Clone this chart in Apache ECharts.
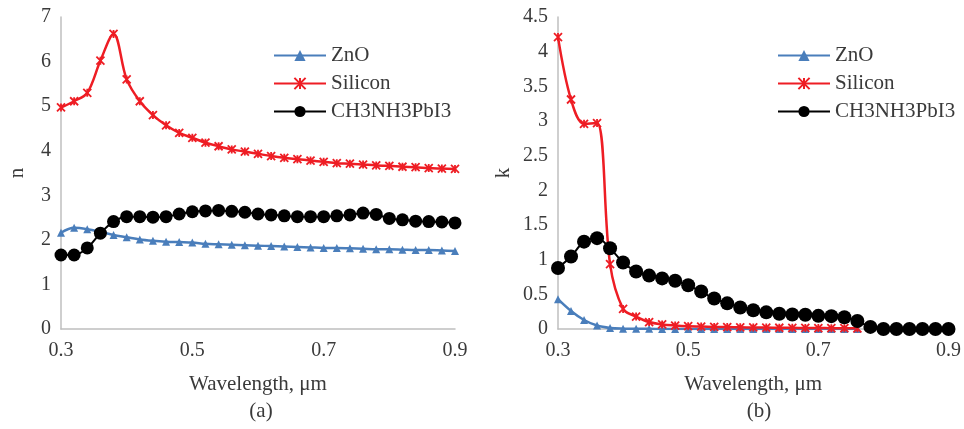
<!DOCTYPE html>
<html>
<head>
<meta charset="utf-8">
<script src="https://cdn.jsdelivr.net/npm/echarts@6/dist/echarts.min.js"></script>
<style>
  html, body { margin: 0; padding: 0; background: #fff; }
  #chart { width: 964px; height: 429px; }
</style>
</head>
<body>
<div id="chart"></div>
<script>
// --- data ---
const wavelength = [0.30, 0.32, 0.34, 0.36, 0.38, 0.40, 0.42, 0.44, 0.46, 0.48, 0.50,
  0.52, 0.54, 0.56, 0.58, 0.60, 0.62, 0.64, 0.66, 0.68, 0.70,
  0.72, 0.74, 0.76, 0.78, 0.80, 0.82, 0.84, 0.86, 0.88, 0.90];

// (a) refractive index n
const nZnO = [2.16, 2.27, 2.24, 2.18, 2.11, 2.06, 2.01, 1.98, 1.96, 1.95, 1.94,
  1.91, 1.90, 1.89, 1.88, 1.87, 1.86, 1.85, 1.84, 1.83, 1.82,
  1.82, 1.81, 1.80, 1.79, 1.79, 1.78, 1.77, 1.77, 1.76, 1.75];
const nSilicon = [4.97, 5.11, 5.30, 6.02, 6.62, 5.60, 5.11, 4.80, 4.57, 4.40, 4.29,
  4.18, 4.10, 4.03, 3.98, 3.93, 3.88, 3.84, 3.81, 3.78, 3.75,
  3.72, 3.71, 3.69, 3.67, 3.66, 3.64, 3.63, 3.61, 3.60, 3.59];
const nPerovskite = [1.66, 1.66, 1.82, 2.15, 2.41, 2.52, 2.52, 2.51, 2.52, 2.58, 2.63,
  2.65, 2.66, 2.64, 2.62, 2.58, 2.56, 2.54, 2.52, 2.52, 2.52,
  2.54, 2.56, 2.60, 2.57, 2.48, 2.45, 2.42, 2.41, 2.40, 2.38];

// (b) extinction coefficient k (null = no point)
const kZnO = [0.43, 0.26, 0.13, 0.05, 0.015, 0.005, 0.003, 0.002, 0.001, 0.001, 0.001,
  0, 0, 0, 0, 0, 0, 0, 0, 0, 0,
  0, 0, 0, null, null, null, null, null, null, null];
const kSilicon = [4.21, 3.31, 2.96, 2.97, 0.935, 0.29, 0.18, 0.10, 0.066, 0.05, 0.04,
  0.035, 0.03, 0.028, 0.025, 0.022, 0.02, 0.018, 0.017, 0.015, 0.014,
  0.012, 0.011, 0.01, null, null, null, null, null, null, null];
const kPerovskite = [0.88, 1.045, 1.26, 1.31, 1.165, 0.96, 0.83, 0.77, 0.73, 0.695, 0.63,
  0.54, 0.44, 0.37, 0.31, 0.27, 0.24, 0.22, 0.21, 0.205, 0.19,
  0.185, 0.17, 0.115, 0.03, 0, 0, 0, 0, 0, 0];

const seriesNames = ['ZnO', 'Silicon', 'CH3NH3PbI3'];
const xTicks = [0.3, 0.5, 0.7, 0.9];

// --- styling ---
const FONT = 'Liberation Serif';
const TEXT = '#3a3a3a';
const AXIS = '#bfbfbf';
const BLUE = '#4a7ebb';
const RED = '#ee1d24';
const BLACK = '#000000';
const STAR = 'path://M0,0L10,10M10,0L0,10M5,0L5,10';

const pairs = (ys) => wavelength.map((x, i) => [x, ys[i]]).filter(p => p[1] !== null);

const xAxisBase = (gridIndex) => ({
  type: 'value',
  gridIndex,
  min: 0.3,
  max: 0.9,
  interval: 0.1,
  name: 'Wavelength, \u03bcm',
  nameLocation: 'middle',
  nameGap: 45,
  nameTextStyle: { fontFamily: FONT, fontSize: 21, color: TEXT },
  axisLine: { show: true, lineStyle: { color: AXIS, width: 1.5 } },
  axisTick: { show: false },
  splitLine: { show: false },
  axisLabel: {
    fontFamily: FONT, fontSize: 20, color: TEXT, margin: 12,
    formatter: (v) => {
      const t = Math.round(v * 10) / 10;
      return xTicks.some(x => Math.abs(x - t) < 1e-6) ? t.toFixed(1) : '';
    }
  }
});

const yAxisBase = (gridIndex, max, interval, name, gap) => ({
  type: 'value',
  gridIndex,
  min: 0,
  max,
  interval,
  name,
  nameLocation: 'middle',
  nameGap: gap,
  nameTextStyle: { fontFamily: FONT, fontSize: 21, color: TEXT },
  axisLine: { show: true, lineStyle: { color: AXIS, width: 1.5 } },
  axisTick: { show: false },
  splitLine: { show: false },
  axisLabel: { fontFamily: FONT, fontSize: 20, color: TEXT, margin: 10 }
});

const makeSeries = (name, data, idx, color, symbol, size, width) => ({
  name,
  type: 'line',
  xAxisIndex: idx,
  yAxisIndex: idx,
  data: pairs(data),
  smooth: 0.35,
  symbol,
  symbolSize: size,
  showSymbol: true,
  lineStyle: { color, width },
  itemStyle: { color, borderColor: color, borderWidth: symbol === STAR ? 1.8 : 0 },
  emphasis: { disabled: true },
  animation: false
});

const legendBase = (left) => ({
  orient: 'vertical',
  left,
  top: 40,
  itemWidth: 52,
  itemHeight: 14,
  itemGap: 7,
  data: seriesNames,
  textStyle: { fontFamily: FONT, fontSize: 21, color: TEXT },
  selectedMode: false
});

const chart = echarts.init(document.getElementById('chart'));
chart.setOption({
  backgroundColor: '#fff',
  animation: false,
  title: [
    { text: '(a)', left: 256, top: 396, textAlign: 'center',
      textStyle: { fontFamily: FONT, fontSize: 21, fontWeight: 'normal', color: TEXT } },
    { text: '(b)', left: 754, top: 396, textAlign: 'center',
      textStyle: { fontFamily: FONT, fontSize: 21, fontWeight: 'normal', color: TEXT } }
  ],
  legend: [legendBase(268), legendBase(772)],
  grid: [
    { left: 61, top: 17, width: 394, height: 312 },
    { left: 558, top: 17, width: 393, height: 312 }
  ],
  xAxis: [xAxisBase(0), xAxisBase(1)],
  yAxis: [
    yAxisBase(0, 7, 1, 'n', 33),
    yAxisBase(1, 4.5, 0.5, 'k', 44)
  ],
  series: [
    makeSeries('ZnO', nZnO, 0, BLUE, 'triangle', 8, 2.5),
    makeSeries('Silicon', nSilicon, 0, RED, STAR, 8, 2.5),
    makeSeries('CH3NH3PbI3', nPerovskite, 0, BLACK, 'circle', 13, 2),
    makeSeries('ZnO', kZnO, 1, BLUE, 'triangle', 8, 2.5),
    makeSeries('Silicon', kSilicon, 1, RED, STAR, 8, 2.5),
    makeSeries('CH3NH3PbI3', kPerovskite, 1, BLACK, 'circle', 14, 2)
  ]
});
</script>
</body>
</html>
